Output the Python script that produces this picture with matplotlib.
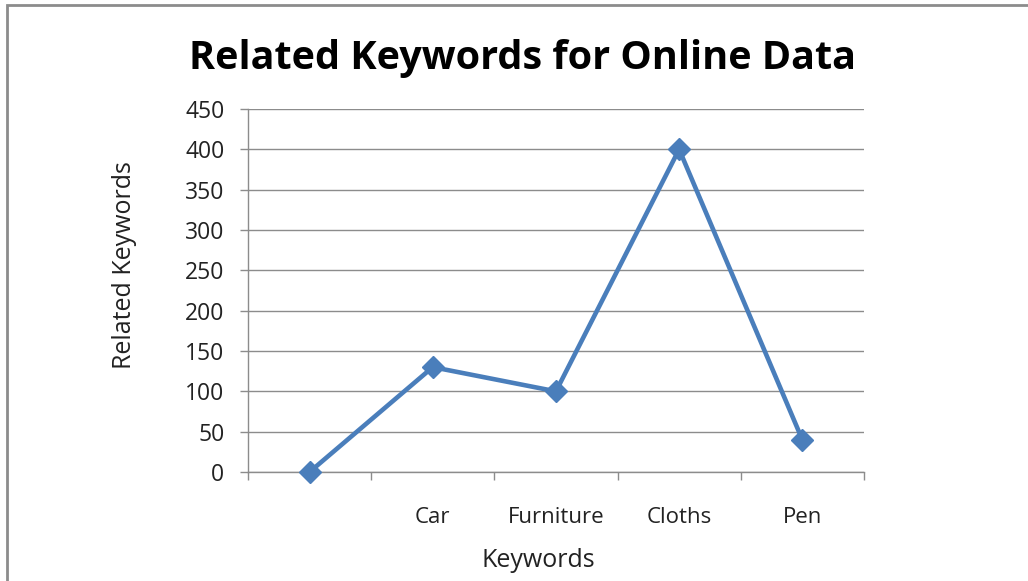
import matplotlib.pyplot as plt
from matplotlib.patches import Rectangle
import numpy as np

# data
categories = ['', 'Car', 'Furniture', 'Cloths', 'Pen']
keyword_counts = [0, 130, 100, 400, 40]
y_ticks = [0, 50, 100, 150, 200, 250, 300, 350, 400, 450]

plt.rcParams['font.family'] = ['Open Sans', 'DejaVu Sans']

fig = plt.figure(figsize=(10.28, 5.81), dpi=100)
ax = fig.add_axes([0.2412, 0.1876, 0.5992, 0.6248])

x = np.arange(len(categories))
ax.plot(x, keyword_counts, color='#4A7EBB', linewidth=3.3,
        marker='D', markersize=11, markerfacecolor='#4A7EBB',
        markeredgecolor='#4A7EBB', zorder=3, clip_on=False)

ax.set_xlim(-0.5, len(categories) - 0.5)
ax.set_ylim(0, 450)
ax.set_yticks(y_ticks)
ax.yaxis.grid(True, color='#8C8C8C', linewidth=1.0)
ax.set_axisbelow(True)

# labels at category centres, tick marks at boundaries
ax.set_xticks(x)
ax.set_xticklabels(categories)
ax.set_xticks(np.arange(-0.5, len(categories)), minor=True)
ax.tick_params(axis='x', which='major', length=0, pad=25, labelsize=16, labelcolor='#222222')
ax.tick_params(axis='x', which='minor', length=6, color='#8C8C8C', width=1)
ax.tick_params(axis='y', length=6, color='#8C8C8C', width=1, labelsize=16.5,
               labelcolor='#222222', pad=11)

for s in ['top', 'right']:
    ax.spines[s].set_visible(False)
for s in ['left', 'bottom']:
    ax.spines[s].set_color('#8C8C8C')
    ax.spines[s].set_linewidth(1.0)

ax.set_xlabel('Keywords', fontsize=18, color='#222222', va='center')
ax.xaxis.set_label_coords(0.4716, -0.245)
ax.set_ylabel('Related Keywords', fontsize=18, color='#222222', va='center')
ax.yaxis.set_label_coords(-0.201, 0.570)
fig.text(0.508, 0.90, 'Related Keywords for Online Data', ha='center', va='center',
         fontsize=28.5, fontweight='bold', color='black')

# outer frame (only top and left edges show in the reference)
fig.patches.append(Rectangle((0.0068, -0.1), 1.2, 1.0914, transform=fig.transFigure,
                             fill=False, edgecolor='#8C8C8C', linewidth=2))

fig.savefig('out.png', dpi=100)
